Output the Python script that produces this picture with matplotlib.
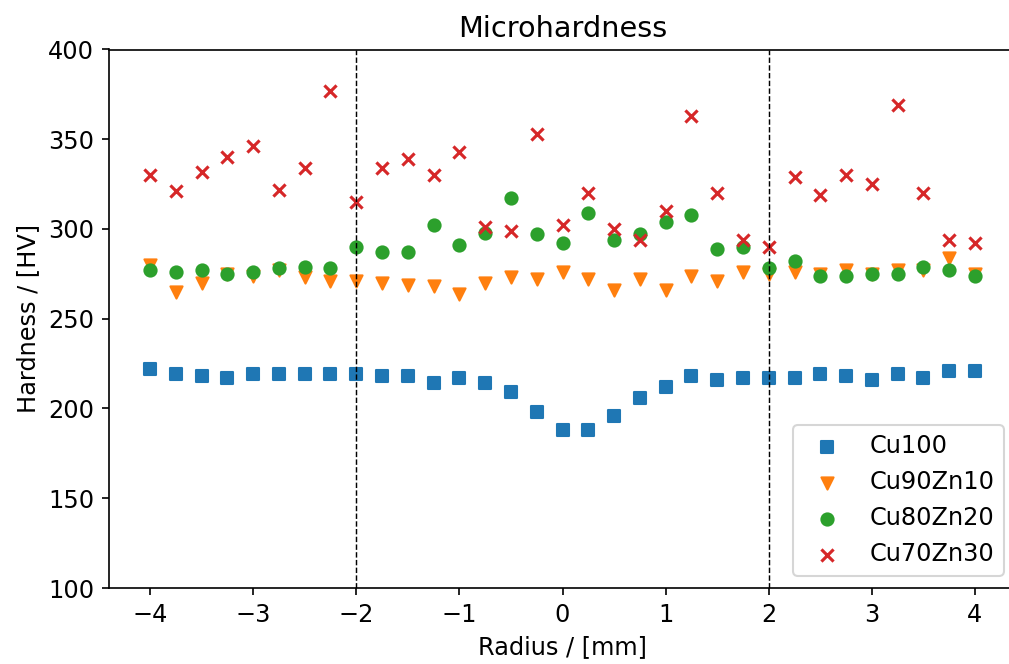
import numpy as np
import matplotlib
matplotlib.use("Agg")
import matplotlib.pyplot as plt

plt.rcParams['font.size'] = 11.5

# posisi radius (mm)
radius = np.arange(-4, 4.01, 0.25)

cu100 = [222, 219, 218, 217, 219, 219, 219, 219, 219, 218, 218, 214, 217, 214, 209, 198,
         188, 188, 196, 206, 212, 218, 216, 217, 217, 217, 219, 218, 216, 219, 217, 221, 221]
cu90zn10 = [280, 265, 270, 275, 274, 277, 273, 271, 271, 270, 269, 268, 264, 270, 273, 272,
            276, 272, 266, 272, 266, 274, 271, 276, 275, 276, 275, 277, 275, 277, 277, 284, 275]
cu80zn20 = [277, 276, 277, 275, 276, 278, 279, 278, 290, 287, 287, 302, 291, 298, 317, 297,
            292, 309, 294, 297, 304, 308, 289, 290, 278, 282, 274, 274, 275, 275, 279, 277, 274]
cu70zn30 = [330, 321, 332, 340, 346, 322, 334, 377, 315, 334, 339, 330, 343, 301, 299, 353,
            302, 320, 300, 294, 310, 363, 320, 294, 290, 329, 319, 330, 325, 369, 320, 294, 292]

labels = ['Cu100', 'Cu90Zn10', 'Cu80Zn20', 'Cu70Zn30']
markers = ['s', 'v', 'o', 'x']

fig = plt.figure(figsize=(1009 / 150, 664 / 150), dpi=150)
ax = fig.add_axes([108.75 / 1009, 76 / 664, 907.5 / 1009, 538.5 / 664])

for data, lab, mk in zip([cu100, cu90zn10, cu80zn20, cu70zn30], labels, markers):
    ax.scatter(radius, data, marker=mk, label=lab, s=34)

# batas zona
ax.axvline(-2, color='black', linestyle='--', linewidth=0.7)
ax.axvline(2, color='black', linestyle='--', linewidth=0.7)

ax.set_xlim(-4.4, 4.4)
ax.set_ylim(100, 400)
ax.spines['right'].set_visible(False)  # gambar asli terpotong di kanan
ax.set_title('Microhardness')
ax.set_xlabel('Radius / [mm]')
ax.set_ylabel('Hardness / [HV]')
ax.legend(loc='lower right')

fig.savefig('out.png', dpi=150)
